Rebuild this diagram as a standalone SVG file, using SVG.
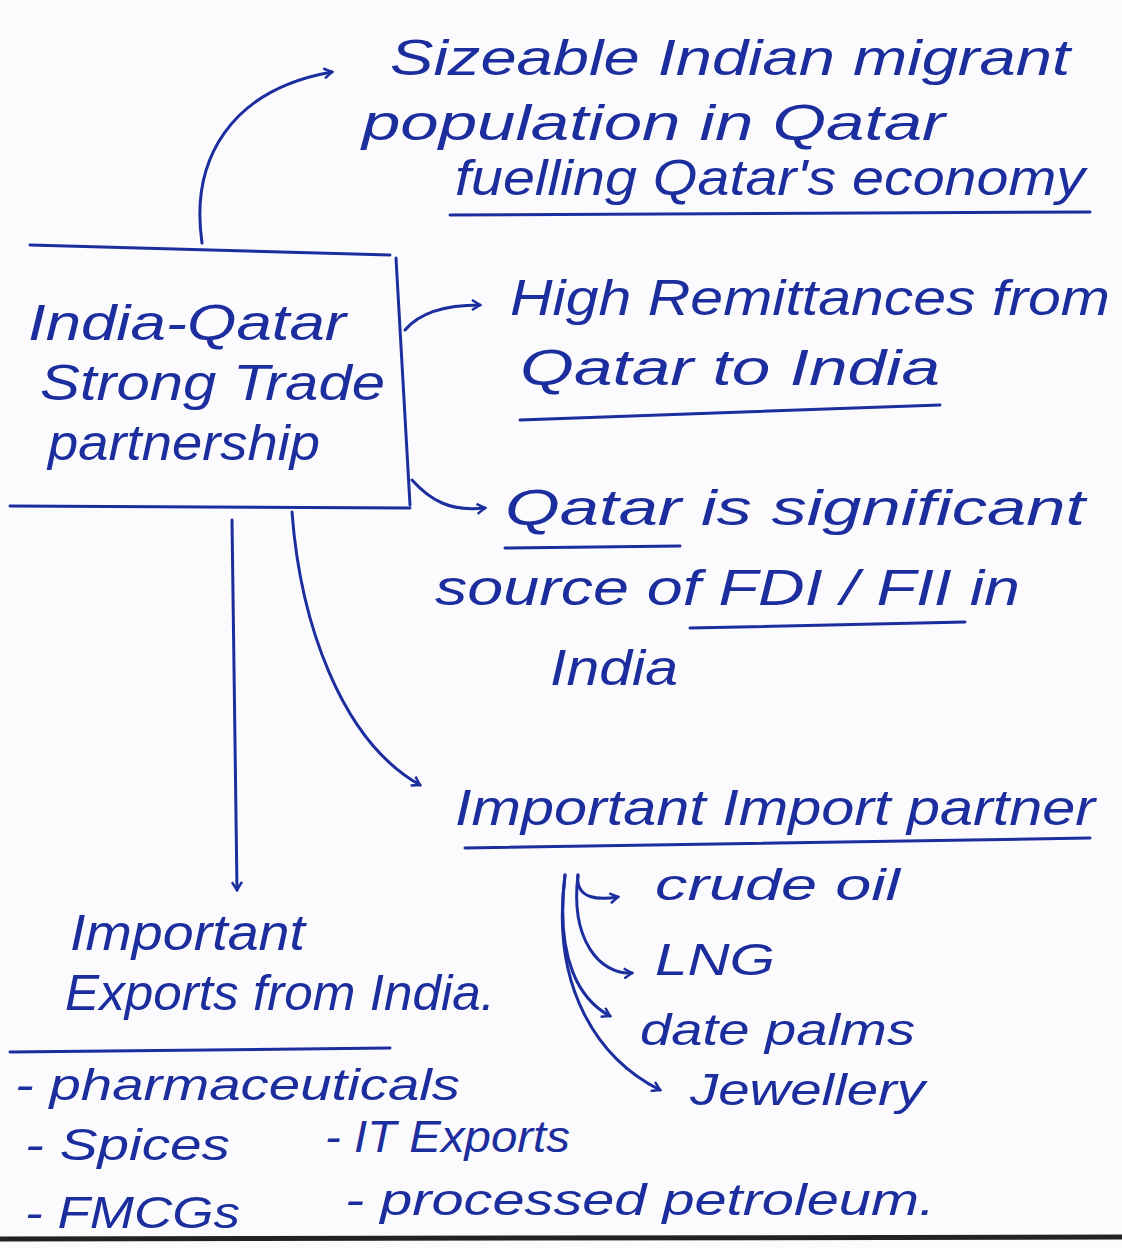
<svg xmlns="http://www.w3.org/2000/svg" width="1122" height="1248" viewBox="0 0 1122 1248">
<defs>
<style>
.t{font-family:"Liberation Sans",Arial,sans-serif;font-size:50px;fill:#1c2d9e;font-style:italic}
.s{font-size:44px}
.ln{fill:none;stroke:#1c2d9e;stroke-width:3;stroke-linecap:round}
</style>
<marker id="ah" viewBox="0 0 12 12" refX="10" refY="6" markerWidth="12" markerHeight="12" markerUnits="userSpaceOnUse" orient="auto">
<path d="M2,1 L10,6 L2,11" fill="none" stroke="#1c2d9e" stroke-width="2.5"/>
</marker>
</defs>
<rect width="1122" height="1248" fill="#fbfbfd"/>
<line x1="0" y1="1239" x2="1122" y2="1237" stroke="#222" stroke-width="5"/>

<g id="hub">
<path class="ln" d="M30,245 L390,255 M396,258 L410,505 M10,506 L410,508"/>
<text class="t" x="28" y="340" textLength="318" lengthAdjust="spacingAndGlyphs">India-Qatar</text>
<text class="t" x="40" y="400" textLength="345" lengthAdjust="spacingAndGlyphs">Strong Trade</text>
<text class="t" x="48" y="460" textLength="272" lengthAdjust="spacingAndGlyphs">partnership</text>
</g>

<g id="migrant">
<text class="t" x="390" y="75" textLength="680" lengthAdjust="spacingAndGlyphs">Sizeable Indian migrant</text>
<text class="t" x="362" y="140" textLength="583" lengthAdjust="spacingAndGlyphs">population in Qatar</text>
<text class="t" x="455" y="195" textLength="630" lengthAdjust="spacingAndGlyphs">fuelling Qatar's economy</text>
<path class="ln" d="M450,215 L1090,212"/>
</g>

<g id="remit">
<text class="t" x="510" y="315" textLength="600" lengthAdjust="spacingAndGlyphs">High Remittances from</text>
<text class="t" x="520" y="385" textLength="420" lengthAdjust="spacingAndGlyphs">Qatar to India</text>
<path class="ln" d="M520,420 L940,405"/>
</g>

<g id="fdi">
<text class="t" x="505" y="525" textLength="580" lengthAdjust="spacingAndGlyphs">Qatar is significant</text>
<path class="ln" d="M505,548 L680,546"/>
<text class="t" x="435" y="605" textLength="585" lengthAdjust="spacingAndGlyphs">source of FDI / FII in</text>
<path class="ln" d="M690,628 L965,622"/>
<text class="t" x="550" y="685" textLength="128" lengthAdjust="spacingAndGlyphs">India</text>
</g>

<g id="import">
<text class="t" x="455" y="825" textLength="640" lengthAdjust="spacingAndGlyphs">Important Import partner</text>
<path class="ln" d="M465,848 L1090,838"/>
</g>

<g id="importItems">
<text class="t s" x="655" y="900" textLength="245" lengthAdjust="spacingAndGlyphs">crude oil</text>
<text class="t s" x="655" y="975" textLength="120" lengthAdjust="spacingAndGlyphs">LNG</text>
<text class="t s" x="640" y="1045" textLength="275" lengthAdjust="spacingAndGlyphs">date palms</text>
<text class="t s" x="690" y="1105" textLength="235" lengthAdjust="spacingAndGlyphs">Jewellery</text>
</g>

<g id="export">
<text class="t" x="70" y="950" textLength="235" lengthAdjust="spacingAndGlyphs">Important</text>
<text class="t" x="65" y="1010" textLength="430" lengthAdjust="spacingAndGlyphs">Exports from India.</text>
<path class="ln" d="M10,1052 L390,1048"/>
</g>

<g id="exportItems">
<text class="t s" x="15" y="1100" textLength="445" lengthAdjust="spacingAndGlyphs">- pharmaceuticals</text>
<text class="t s" x="25" y="1160" textLength="205" lengthAdjust="spacingAndGlyphs">- Spices</text>
<text class="t s" x="325" y="1152" textLength="245" lengthAdjust="spacingAndGlyphs">- IT Exports</text>
<text class="t s" x="25" y="1228" textLength="215" lengthAdjust="spacingAndGlyphs">- FMCGs</text>
<text class="t s" x="345" y="1215" textLength="590" lengthAdjust="spacingAndGlyphs">- processed petroleum.</text>
</g>

<g id="connectors">
<path class="ln" marker-end="url(#ah)" d="M202,243 C190,160 230,90 332,72"/>
<path class="ln" marker-end="url(#ah)" d="M405,330 C420,312 445,305 480,305"/>
<path class="ln" marker-end="url(#ah)" d="M412,480 C430,500 450,512 485,508"/>
<path class="ln" marker-end="url(#ah)" d="M292,512 C300,620 340,740 420,785"/>
<path class="ln" marker-end="url(#ah)" d="M232,520 L237,890"/>
<path class="ln" marker-end="url(#ah)" d="M578,875 C575,900 600,900 618,897"/>
<path class="ln" marker-end="url(#ah)" d="M578,875 C570,940 600,975 632,973"/>
<path class="ln" marker-end="url(#ah)" d="M565,875 C555,960 580,1000 610,1016"/>
<path class="ln" marker-end="url(#ah)" d="M565,875 C550,990 600,1060 660,1090"/>
</g>
</svg>
